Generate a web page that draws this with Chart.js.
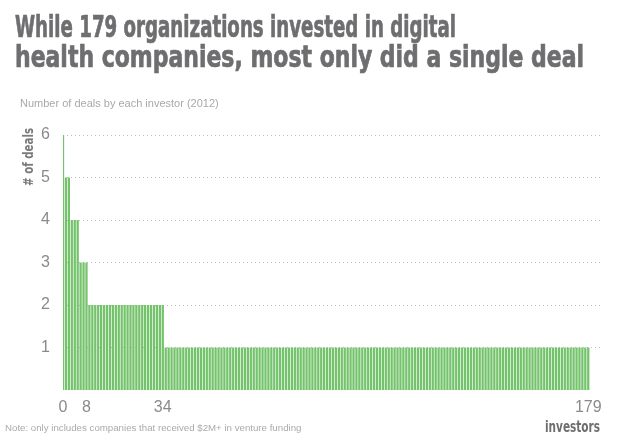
<!DOCTYPE html>
<html>
<head>
<meta charset="utf-8">
<script src="https://cdn.jsdelivr.net/npm/chart.js@4"></script>
<style>
  html, body { margin: 0; padding: 0; background: #fff; }
  #wrap { position: relative; width: 629px; height: 437px; overflow: hidden; }
  #c { position: absolute; left: 0; top: 0; }
  .t { position: absolute; white-space: nowrap; }
  .title { left: 15px; font-family: "Liberation Sans Narrow", "DejaVu Sans Condensed", "Liberation Sans", sans-serif; font-weight: bold; font-size: 30px; color: #6e6e70; transform-origin: 0 0; line-height: 1; -webkit-text-stroke: 0.7px #6e6e70; }
  #sub { left: 20px; top: 97px; font-family: "Liberation Sans", Arial, sans-serif; font-size: 11px; color: #a9a9a9; }
  #note { left: 5px; top: 422px; font-family: "Liberation Sans", Arial, sans-serif; font-size: 9.7px; color: #aaa; }
  #inv { left: 545px; top: 417px; font-family: "Liberation Sans Narrow", "DejaVu Sans Condensed", sans-serif; font-weight: bold; font-size: 16px; color: #6e6e70; transform-origin: 0 0; }
  #ylab { left: 20px; top: 128px; font-family: "Liberation Sans Narrow", "DejaVu Sans Condensed", sans-serif; font-weight: bold; font-size: 14px; color: #7a7a7a; transform-origin: 0 0; }
</style>
</head>
<body>
<div id="wrap">
  <canvas id="c" width="629" height="437"></canvas>
  <div class="t title" id="l1" style="top:12px" data-w="441">While 179 organizations invested in digital</div>
  <div class="t title" id="l2" style="top:42px" data-w="569">health companies, most only did a single deal</div>
  <div class="t" id="sub">Number of deals by each investor (2012)</div>
  <div class="t" id="ylab"># of deals</div>
  <div class="t" id="inv">investors</div>
  <div class="t" id="note">Note: only includes companies that received $2M+ in venture funding</div>
</div>
<script>
// Data: number of deals by each investor, ranked (index 0..179)
const dealsPerInvestor = [
  6,
  5, 5,
  4, 4, 4,
  3, 3, 3,
  2, 2, 2, 2, 2, 2, 2, 2, 2, 2, 2, 2, 2, 2, 2, 2, 2, 2, 2, 2, 2, 2, 2, 2, 2, 2,
  1, 1, 1, 1, 1, 1, 1, 1, 1, 1, 1, 1, 1, 1, 1, 1, 1, 1, 1, 1, 1, 1, 1, 1, 1, 1, 1, 1, 1, 1,
  1, 1, 1, 1, 1, 1, 1, 1, 1, 1, 1, 1, 1, 1, 1, 1, 1, 1, 1, 1, 1, 1, 1, 1, 1, 1, 1, 1, 1, 1,
  1, 1, 1, 1, 1, 1, 1, 1, 1, 1, 1, 1, 1, 1, 1, 1, 1, 1, 1, 1, 1, 1, 1, 1, 1, 1, 1, 1, 1, 1,
  1, 1, 1, 1, 1, 1, 1, 1, 1, 1, 1, 1, 1, 1, 1, 1, 1, 1, 1, 1, 1, 1, 1, 1, 1, 1, 1, 1, 1, 1,
  1, 1, 1, 1, 1, 1, 1, 1, 1, 1, 1, 1, 1, 1, 1, 1, 1, 1, 1, 1, 1, 1, 1, 1, 1
];
const investorIndex = dealsPerInvestor.map((_, i) => i);
const xTickValues = [0, 8, 34, 179];
const yTickValues = [1, 2, 3, 4, 5, 6];

// fit title lines to measured widths
document.querySelectorAll('.title').forEach(el => {
  const target = +el.dataset.w;
  const w = el.getBoundingClientRect().width;
  el.style.transform = 'scaleX(' + (target / w) + ')';
});
(function(){
  const inv = document.getElementById('inv');
  inv.style.transform = 'scaleX(' + (55 / inv.getBoundingClientRect().width) + ')';
  const yl = document.getElementById('ylab');
  const w = yl.getBoundingClientRect().width;
  yl.style.transform = 'translate(0px,' + 58 + 'px) rotate(-90deg) scaleX(' + (58 / w) + ')';
})();

new Chart(document.getElementById('c'), {
  type: 'bar',
  data: {
    datasets: [{
      data: investorIndex.map((x, i) => ({ x: x, y: dealsPerInvestor[i] })),
      backgroundColor: 'rgb(116,195,108)',
      borderWidth: 0,
      barPercentage: 0.78,
      categoryPercentage: 1,
      clip: 0
    }]
  },
  options: {
    responsive: false,
    animation: false,
    events: [],
    layout: { padding: { left: 23, right: 29, top: 135, bottom: 0 } },
    plugins: { legend: { display: false }, tooltip: { enabled: false } },
    scales: {
      x: {
        type: 'linear',
        offset: false,
        min: 0,
        max: 183,
        afterBuildTicks: s => { s.ticks = xTickValues.map(v => ({ value: v })); },
        afterFit: s => { s.height = 47; },
        grid: { display: false, drawTicks: false, offset: false },
        border: { display: false },
        ticks: {
          autoSkip: false,
          maxRotation: 0,
          padding: 8,
          color: '#8a8a8a',
          font: { family: 'Liberation Sans, Arial, sans-serif', size: 16 }
        }
      },
      y: {
        min: 0,
        max: 6,
        afterBuildTicks: s => { s.ticks = yTickValues.map(v => ({ value: v })); },
        afterFit: s => { s.width = 40; },
        grid: {
          drawTicks: false,
          color: '#bdbdbd',
          lineWidth: 1
        },
        border: { display: false, dash: [1, 3] },
        ticks: {
          padding: 13,
          color: '#8a8a8a',
          font: { family: 'Liberation Sans, Arial, sans-serif', size: 16 }
        }
      }
    }
  }
});
</script>
</body>
</html>
